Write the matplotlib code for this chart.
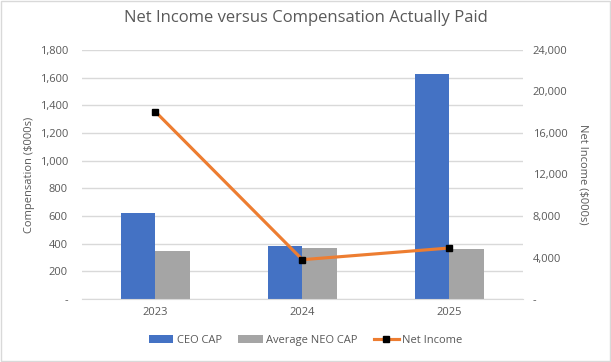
import numpy as np
import matplotlib
matplotlib.use("Agg")
import matplotlib.pyplot as plt
from matplotlib.ticker import FuncFormatter

plt.rcParams["font.family"] = ["Open Sans", "DejaVu Sans"]

years = ["2023", "2024", "2025"]
ceo_cap = [621, 383, 1625]
neo_cap = [347, 368, 361]
net_income = [18050, 3790, 4915]

grey_text = "#595959"
grid_col = "#d9d9d9"

fig = plt.figure(figsize=(6.11, 3.62), dpi=100)
ax = fig.add_axes([0.134, 0.174, 0.722, 0.688])
ax2 = ax.twinx()

x = np.arange(len(years))
w = 0.237
ax.bar(x - w / 2, ceo_cap, w, color="#4472C4", label="CEO CAP", zorder=2)
ax.bar(x + w / 2, neo_cap, w, color="#A5A5A5", label="Average NEO CAP", zorder=2)
ax2.plot(x, net_income, color="#ED7D31", lw=2.25, marker="s", ms=5,
         mfc="black", mec="black", label="Net Income", zorder=3)

ax.set_xlim(-0.5, 2.5)
ax.set_ylim(0, 1800)
ax.set_yticks(range(0, 1801, 200))
ax2.set_ylim(0, 24000)
ax2.set_yticks(range(0, 24001, 4000))

fmt = FuncFormatter(lambda v, p: "-" if v == 0 else f"{v:,.0f}")
ax.yaxis.set_major_formatter(fmt)
ax2.yaxis.set_major_formatter(fmt)

ax.set_xticks(x)
ax.set_xticklabels(years)
ax.grid(axis="y", color=grid_col, lw=1, zorder=0)
ax.set_axisbelow(True)

for a in (ax, ax2):
    for s in a.spines.values():
        s.set_visible(False)
    a.tick_params(length=0, colors=grey_text, labelsize=8)
ax.spines["bottom"].set_visible(True)
ax.spines["bottom"].set_color(grid_col)
ax.tick_params(axis="y", pad=10)
ax2.tick_params(axis="y", pad=7)
ax.tick_params(axis="x", pad=6)

ax.set_ylabel("Compensation ($000s)", color=grey_text, fontsize=8, labelpad=3)
ax2.set_ylabel("Net Income ($000s)", color=grey_text, fontsize=8,
               rotation=270, labelpad=7, va="bottom")

fig.suptitle("Net Income versus Compensation Actually Paid", color=grey_text,
             fontsize=12, y=0.972)

h1, l1 = ax.get_legend_handles_labels()
h2, l2 = ax2.get_legend_handles_labels()
fig.legend(h1 + h2, l1 + l2, loc="center", bbox_to_anchor=(0.5, 0.06), ncol=3,
           frameon=False, fontsize=8, labelcolor=grey_text, handlelength=2.2,
           handletextpad=0.3, columnspacing=1.5)

fig.patches.append(plt.Rectangle((0.002, 0.004), 0.996, 0.992, transform=fig.transFigure,
                                 fill=False, edgecolor=grid_col, lw=1))

fig.savefig("out.png", dpi=100)
